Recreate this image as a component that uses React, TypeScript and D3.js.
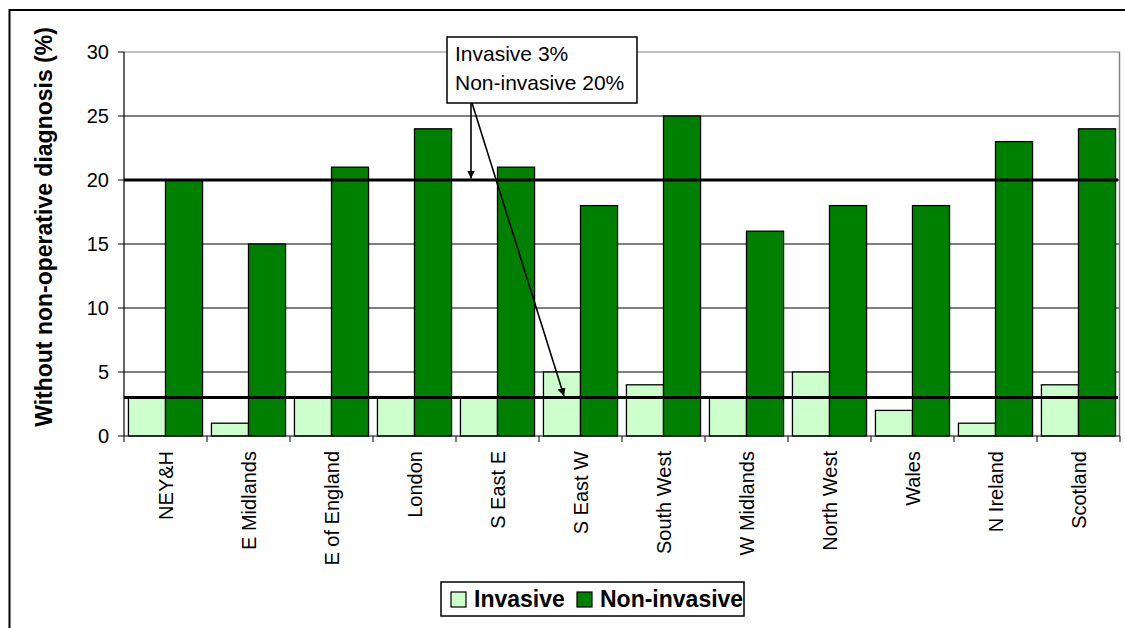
import React from "react";
import * as d3 from "d3";

const regions = [
  "NEY&H",
  "E Midlands",
  "E of England",
  "London",
  "S East E",
  "S East W",
  "South West",
  "W Midlands",
  "North West",
  "Wales",
  "N Ireland",
  "Scotland",
];
const invasive = [3, 1, 3, 3, 3, 5, 4, 3, 5, 2, 1, 4];
const nonInvasive = [20, 15, 21, 24, 21, 18, 25, 16, 18, 18, 23, 24];
const yTicks = [0, 5, 10, 15, 20, 25, 30];
const targets = { invasive: 3, nonInvasive: 20 };
const seriesNames = ["Invasive", "Non-invasive"];

const W = 1125;
const H = 628;
const plot = { left: 124, right: 1120, top: 52, bottom: 436 };
const FONT = "'Liberation Sans', Arial, sans-serif";
const LIGHT = "#ccffcc";
const DARK = "#008000";

export default function App() {
  const x = d3
    .scaleBand<string>()
    .domain(regions)
    .range([plot.left, plot.right])
    .paddingInner(0)
    .paddingOuter(0);
  const inner = d3
    .scaleBand<string>()
    .domain(seriesNames)
    .range([0, x.bandwidth()])
    .paddingInner(0)
    .paddingOuter(0.12);
  const y = d3.scaleLinear().domain([0, 30]).range([plot.bottom, plot.top]);

  const rows = regions.map((r, i) => ({
    region: r,
    values: [invasive[i], nonInvasive[i]],
  }));

  const boundaries = d3.range(regions.length + 1).map((i) =>
    i < regions.length ? (x(regions[i]) as number) : plot.right
  );

  const boxArrowX = 471;
  const boxBottom = 103;
  const arrowTip2 = { x: 564, y: y(targets.invasive) };

  return (
    <svg
      width={W}
      height={H}
      style={{ position: "absolute", left: 0, top: 0, background: "#fff" }}
      fontFamily={FONT}
    >
      <defs>
        <marker
          id="arrowHead"
          viewBox="0 0 10 10"
          refX="10"
          refY="5"
          markerWidth="5"
          markerHeight="5"
          orient="auto"
          markerUnits="strokeWidth"
        >
          <path d="M0,0 L10,5 L0,10 z" fill="#000" />
        </marker>
      </defs>

      {/* chart frame */}
      <rect x={9.5} y={10} width={W} height={H} fill="#fff" stroke="#000" strokeWidth={2} />

      {/* gridlines */}
      {yTicks
        .filter((t) => t > 0 && t < 30)
        .map((t) => (
          <line
            key={t}
            x1={plot.left}
            x2={plot.right}
            y1={y(t)}
            y2={y(t)}
            stroke="#000"
            strokeWidth={1}
          />
        ))}
      {/* plot area border */}
      <line x1={plot.left} x2={plot.right} y1={y(30)} y2={y(30)} stroke="#808080" strokeWidth={1.2} />
      <line x1={plot.right - 0.5} x2={plot.right - 0.5} y1={plot.top} y2={plot.bottom} stroke="#808080" strokeWidth={1.5} />

      {/* bars */}
      {rows.map((row) => (
        <g key={row.region} transform={`translate(${x(row.region)},0)`}>
          {row.values.map((v, j) => (
            <rect
              key={j}
              x={inner(seriesNames[j])}
              y={y(v)}
              width={inner.bandwidth()}
              height={y(0) - y(v)}
              fill={j === 0 ? LIGHT : DARK}
              stroke="#000"
              strokeWidth={1.3}
            />
          ))}
        </g>
      ))}

      {/* axes */}
      <line x1={plot.left} x2={plot.left} y1={plot.top} y2={plot.bottom} stroke="#000" strokeWidth={1.2} />
      <line x1={plot.left} x2={plot.right} y1={plot.bottom} y2={plot.bottom} stroke="#000" strokeWidth={1.2} />
      {yTicks.map((t) => (
        <g key={t}>
          <line x1={plot.left - 6} x2={plot.left} y1={y(t)} y2={y(t)} stroke="#000" strokeWidth={1} />
          <text x={109} y={y(t)} dy="0.36em" textAnchor="end" fontSize={20} fill="#000">
            {t}
          </text>
        </g>
      ))}
      {boundaries.map((bx, i) => (
        <line key={i} x1={bx} x2={bx} y1={plot.bottom} y2={plot.bottom + 6} stroke="#000" strokeWidth={1} />
      ))}
      {regions.map((r) => {
        const cx = (x(r) as number) + x.bandwidth() / 2;
        return (
          <text
            key={r}
            transform={`translate(${cx},${451}) rotate(-90)`}
            dy="0.36em"
            textAnchor="end"
            fontSize={20}
            fill="#000"
          >
            {r}
          </text>
        );
      })}

      {/* target lines */}
      {[targets.nonInvasive, targets.invasive].map((t) => (
        <line
          key={t}
          x1={plot.left}
          x2={plot.right - 2}
          y1={y(t)}
          y2={y(t)}
          stroke="#000"
          strokeWidth={3}
        />
      ))}

      {/* y axis title */}
      <text
        transform={`translate(44,227) rotate(-90)`}
        dy="0.36em"
        textAnchor="middle"
        fontSize={23}
        fontWeight="bold"
        fill="#000"
      >
        Without non-operative diagnosis (%)
      </text>

      {/* callout */}
      <line
        x1={boxArrowX}
        y1={boxBottom}
        x2={boxArrowX}
        y2={y(targets.nonInvasive) - 1.5}
        stroke="#000"
        strokeWidth={1.6}
        markerEnd="url(#arrowHead)"
      />
      <line
        x1={boxArrowX + 1}
        y1={boxBottom}
        x2={arrowTip2.x}
        y2={arrowTip2.y - 1.5}
        stroke="#000"
        strokeWidth={1.6}
        markerEnd="url(#arrowHead)"
      />
      <rect x={447} y={37} width={190} height={66} fill="#fff" stroke="#000" strokeWidth={1.5} />
      <text x={455} y={61} fontSize={21} fill="#000">
        Invasive {targets.invasive}%
      </text>
      <text x={455} y={90} fontSize={21} fill="#000">
        Non-invasive {targets.nonInvasive}%
      </text>

      {/* legend */}
      <rect x={441} y={582} width={303} height={34} fill="#fff" stroke="#000" strokeWidth={1.5} />
      <rect x={451} y={592} width={15} height={15} fill={LIGHT} stroke="#000" strokeWidth={1.2} />
      <text x={474} y={607} fontSize={23} fontWeight="bold" fill="#000">
        {seriesNames[0]}
      </text>
      <rect x={577} y={592} width={15} height={15} fill={DARK} stroke="#000" strokeWidth={1.2} />
      <text x={600} y={607} fontSize={23} fontWeight="bold" fill="#000">
        {seriesNames[1]}
      </text>
    </svg>
  );
}
